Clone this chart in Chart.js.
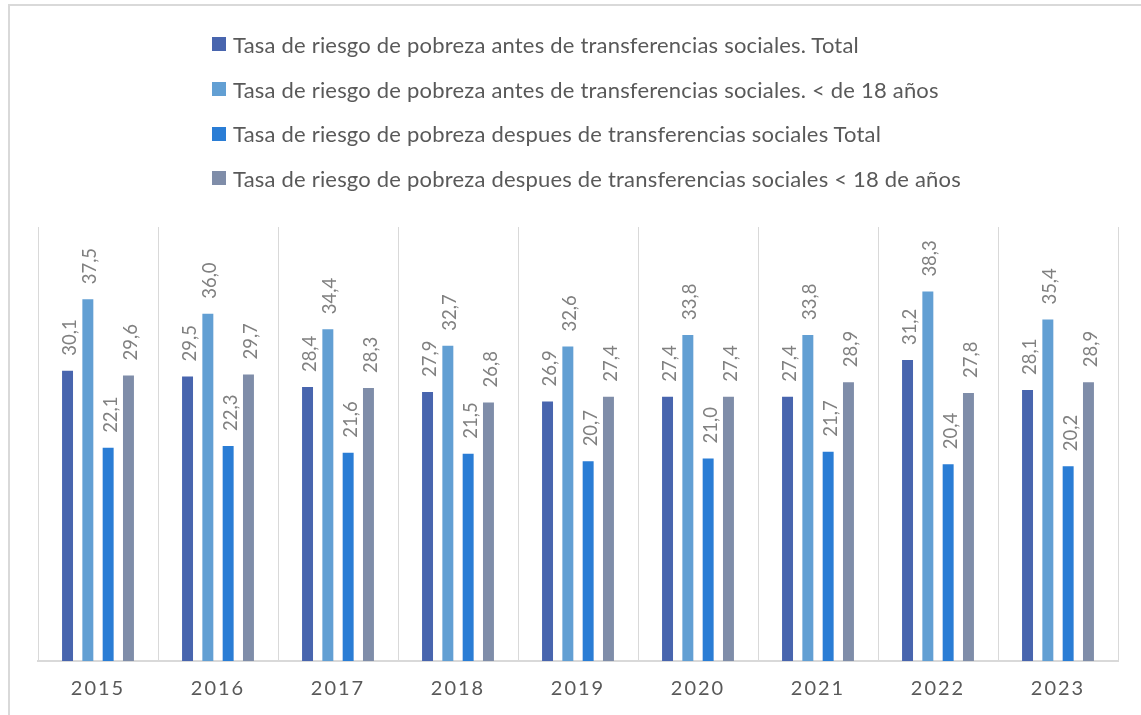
<!DOCTYPE html>
<html lang="es">
<head>
<meta charset="utf-8">
<title>Tasa de riesgo de pobreza</title>
<script src="https://cdn.jsdelivr.net/npm/chart.js@4/dist/chart.umd.min.js"></script>
<style>
  html, body { margin: 0; padding: 0; background: #ffffff; overflow: hidden; }
  #wrap { position: relative; width: 1141px; height: 715px; }
  #frame { position: absolute; left: 8px; top: 4px; width: 1200px; height: 800px;
           border: 2px solid #d9d9d9; box-sizing: border-box; }
  #chart { position: absolute; left: 0; top: 0; }
  #legend { position: absolute; left: 212px; top: 22px; font-family: Lato, sans-serif;
            font-size: 22px; letter-spacing: 0.2px; color: #595959; }
  #legend .row { display: flex; align-items: center; height: 44.7px; white-space: nowrap; }
  #legend .box { width: 14px; height: 14px; margin-right: 7px; flex: none; }
</style>
</head>
<body>
<div id="wrap">
  <div id="frame"></div>
  <canvas id="chart" width="1141" height="715"></canvas>
  <div id="legend"></div>
</div>
<script>
// Years on the category axis
const years = ['2015', '2016', '2017', '2018', '2019', '2020', '2021', '2022', '2023'];

// Series names
const seriesNames = [
  'Tasa de riesgo de pobreza antes de transferencias sociales. Total',
  'Tasa de riesgo de pobreza antes de transferencias sociales. < de 18 años',
  'Tasa de riesgo de pobreza despues de transferencias sociales Total',
  'Tasa de riesgo de pobreza despues de transferencias sociales < 18 de años'
];

// Rates (%) per year
const antesTotal     = [30.1, 29.5, 28.4, 27.9, 26.9, 27.4, 27.4, 31.2, 28.1];
const antesMenores   = [37.5, 36.0, 34.4, 32.7, 32.6, 33.8, 33.8, 38.3, 35.4];
const despuesTotal   = [22.1, 22.3, 21.6, 21.5, 20.7, 21.0, 21.7, 20.4, 20.2];
const despuesMenores = [29.6, 29.7, 28.3, 26.8, 27.4, 27.4, 28.9, 27.8, 28.9];

const seriesColors = ['#4865ae', '#629fd3', '#2a7dd5', '#7f8da9'];
const seriesValues = [antesTotal, antesMenores, despuesTotal, despuesMenores];

// Legend, one entry per row
const legendEl = document.getElementById('legend');
seriesNames.forEach((name, i) => {
  const row = document.createElement('div');
  row.className = 'row';
  const box = document.createElement('span');
  box.className = 'box';
  box.style.background = seriesColors[i];
  const txt = document.createElement('span');
  txt.textContent = name;
  row.appendChild(box);
  row.appendChild(txt);
  legendEl.appendChild(row);
});

const fmt = v => v.toFixed(1).replace('.', ',');

// Rotated value labels above each bar
const valueLabels = {
  id: 'valueLabels',
  afterDatasetsDraw(chart) {
    const ctx = chart.ctx;
    ctx.save();
    ctx.letterSpacing = '0px';
    ctx.font = '18.5px Lato, sans-serif';
    ctx.fillStyle = '#808080';
    ctx.textAlign = 'left';
    ctx.textBaseline = 'alphabetic';
    chart.data.datasets.forEach((ds, di) => {
      const meta = chart.getDatasetMeta(di);
      meta.data.forEach((bar, i) => {
        ctx.save();
        ctx.translate(bar.x + 8.5, bar.y - 15);
        ctx.rotate(-Math.PI / 2);
        ctx.fillText(fmt(ds.data[i]), 0, 0);
        ctx.restore();
      });
    });
    ctx.restore();
  }
};

// Spaced-out year labels on the x axis
const axisSpacing = {
  id: 'axisSpacing',
  beforeDraw(chart) { chart.ctx.letterSpacing = '2px'; },
  beforeDatasetsDraw(chart) { chart.ctx.letterSpacing = '0px'; }
};

new Chart(document.getElementById('chart'), {
  type: 'bar',
  data: {
    labels: years,
    datasets: seriesNames.map((name, i) => ({
      label: name,
      data: seriesValues[i],
      backgroundColor: seriesColors[i],
      categoryPercentage: 0.677,
      barPercentage: 0.54
    }))
  },
  options: {
    responsive: false,
    animation: false,
    layout: { padding: { top: 227, left: 38, right: 23, bottom: 0 } },
    plugins: {
      legend: { display: false },
      tooltip: { enabled: false }
    },
    scales: {
      x: {
        grid: { color: '#d9d9d9', lineWidth: 1, drawTicks: false, offset: true },
        border: { color: '#d9d9d9', width: 2 },
        ticks: {
          color: '#595959',
          font: { family: 'Lato, sans-serif', size: 20 },
          padding: 16,
          maxRotation: 0
        },
        afterFit(scale) { scale.height = 54; }
      },
      y: {
        display: false,
        min: 0,
        max: 45
      }
    }
  },
  plugins: [valueLabels, axisSpacing]
});
</script>
</body>
</html>
